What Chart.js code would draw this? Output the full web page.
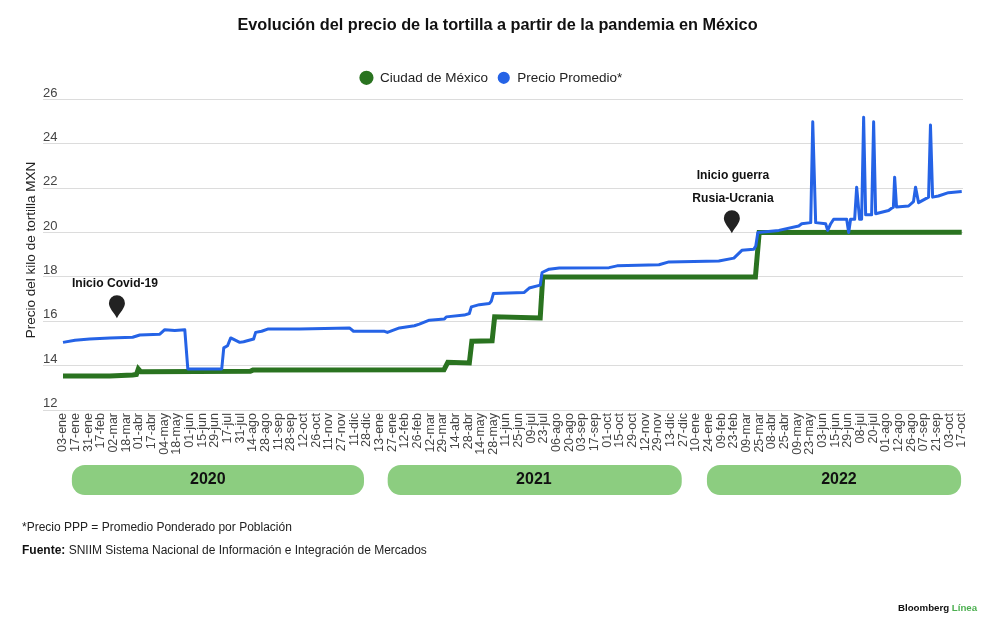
<!DOCTYPE html>
<html>
<head>
<meta charset="utf-8">
<title>Precio de la tortilla</title>
<script src="https://cdn.jsdelivr.net/npm/chart.js@4"></script>
<style>
    html, body { margin: 0; padding: 0; background: #fff; }
    #wrap { position: relative; width: 1000px; height: 633px; overflow: hidden; }
</style>
</head>
<body>
<div id="wrap"><canvas id="chart"></canvas></div>
<script>
const dateLabels = ['03-ene','17-ene','31-ene','17-feb','02-mar','18-mar','01-abr','17-abr','04-may','18-may','01-jun','15-jun','29-jun','17-jul','31-jul','14-ago','28-ago','11-sep','28-sep','12-oct','26-oct','11-nov','27-nov','11-dic','28-dic',
    '13-ene','27-ene','12-feb','26-feb','12-mar','29-mar','14-abr','28-abr','14-may','28-may','11-jun','25-jun','09-jul','23-jul','06-ago','20-ago','03-sep','17-sep','01-oct','15-oct','29-oct','12-nov','29-nov','13-dic','27-dic',
    '10-ene','24-ene','09-feb','23-feb','09-mar','25-mar','08-abr','25-abr','09-may','23-may','03-jun','15-jun','29-jun','08-jul','20-jul','01-ago','12-ago','26-ago','07-sep','21-sep','03-oct','17-oct'];

// positions along the date axis, in label units (0 = 03-ene 2020)
const cdmxAt = [0, 3.7, 5.5, 5.8, 5.95, 6.15, 6.3, 14.8, 15, 30.1, 30.4, 32.1, 32.3, 33.9, 34.1, 37.7, 37.9, 54.7, 55, 71];
const cdmxValues = [13.53, 13.53, 13.58, 13.6, 13.85, 13.72, 13.72, 13.75, 13.8, 13.82, 14.15, 14.12, 15.1, 15.12, 16.2, 16.15, 18, 18, 20, 20.02];

const promedioAt = [0, 0.95, 2.1, 3.7, 5.5, 6.07, 7.65, 8.04, 8.83, 9.62, 9.86, 12.54, 12.7, 13, 13.25, 13.96, 14.27, 15.06, 15.22, 15.69, 16.17, 18.69, 22.63, 22.95, 25.4, 25.63, 26.58, 27.76, 28.15, 28.94, 30.13, 30.28, 31.7, 32.1, 32.26, 32.89, 33.68, 33.83, 34, 36.44, 36.83, 37.7, 37.85, 38.4, 39.2, 43.14, 43.77, 47.08, 47.87, 51.81, 53, 53.63, 54.57, 54.73, 54.89, 56.55, 58.12, 58.36, 59.07, 59.23, 59.46, 60.25, 60.41, 60.65, 60.88, 61.91, 62.07, 62.22, 62.54, 62.7, 62.93, 63.09, 63.25, 63.41, 63.88, 64.04, 64.2, 65.22, 65.46, 65.6, 65.7, 65.85, 66.8, 67.19, 67.35, 67.59, 68.38, 68.53, 68.7, 69.16, 69.95, 71];
const promedioValues = [15.05, 15.15, 15.2, 15.25, 15.28, 15.38, 15.42, 15.62, 15.58, 15.62, 13.85, 13.85, 14.8, 14.9, 15.25, 15.05, 15.08, 15.2, 15.5, 15.55, 15.65, 15.65, 15.7, 15.55, 15.55, 15.5, 15.7, 15.8, 15.87, 16.05, 16.1, 16.2, 16.28, 16.35, 16.65, 16.75, 16.8, 16.9, 17.25, 17.3, 17.5, 17.63, 18.2, 18.35, 18.4, 18.42, 18.5, 18.55, 18.68, 18.72, 18.85, 19.2, 19.25, 19.4, 20, 20.1, 20.3, 20.4, 20.45, 25, 20.45, 20.4, 20.1, 20.4, 20.6, 20.6, 20, 20.6, 20.6, 22.05, 20.6, 20.6, 25.2, 20.8, 20.8, 25, 20.85, 21, 21.1, 21.15, 22.5, 21.15, 21.2, 21.4, 22.05, 21.35, 21.6, 24.85, 21.6, 21.65, 21.8, 21.85];

const yearNames = ['2020', '2021', '2022'];
const yearFrom = [0.7, 25.65, 50.87];
const yearTo = [23.78, 48.88, 70.95];
const yearTextAt = [11.44, 37.2, 61.3];

const FONT = '"Liberation Sans", Arial, sans-serif';

function toPoints(at, values) {
    return at.map((x, i) => ({ x: x, y: values[i] }));
}

// pin marker with its tip on a point of the chart
function drawPin(ctx, x, y) {
    const r = 8;
    ctx.beginPath();
    ctx.moveTo(x, y);
    ctx.bezierCurveTo(x - 3, y - 6, x - r, y - 10, x - r, y - 15);
    ctx.arc(x, y - 15, r, Math.PI, 0);
    ctx.bezierCurveTo(x + r, y - 10, x + 3, y - 6, x, y);
    ctx.closePath();
    ctx.fillStyle = '#222';
    ctx.fill();
}

const extras = {
    id: 'extras',
    // title and legend sit off the centre of the page in the original
    afterLayout(chart) {
        const legend = chart.legend;
        legend.top -= 5;
        legend.bottom -= 5;
        legend.left -= 12;
        legend.right -= 12;
        chart.titleBlock.left -= 5.5;
        chart.titleBlock.right -= 5.5;
    },
    afterDraw(chart) {
        const ctx = chart.ctx;
        const xs = chart.scales.x;
        const ys = chart.scales.y;
        ctx.save();

        // year bands under the axis
        yearNames.forEach((name, i) => {
            const a = xs.getPixelForValue(yearFrom[i]);
            const b = xs.getPixelForValue(yearTo[i]);
            ctx.beginPath();
            ctx.roundRect(a, 465, b - a, 30, 13);
            ctx.fillStyle = '#8ccd80';
            ctx.fill();
            ctx.fillStyle = '#111';
            ctx.font = 'bold 16px ' + FONT;
            ctx.textAlign = 'center';
            ctx.textBaseline = 'middle';
            ctx.fillText(name, xs.getPixelForValue(yearTextAt[i]), 480);
        });

        // y axis title
        ctx.save();
        ctx.translate(31, 250);
        ctx.rotate(-Math.PI / 2);
        ctx.font = '13.5px ' + FONT;
        ctx.fillStyle = '#222';
        ctx.textAlign = 'center';
        ctx.textBaseline = 'middle';
        ctx.fillText('Precio del kilo de tortilla MXN', 0, 0);
        ctx.restore();

        // annotations
        drawPin(ctx, xs.getPixelForValue(4.26), ys.getPixelForValue(16.14));
        drawPin(ctx, xs.getPixelForValue(52.84), ys.getPixelForValue(19.97));
        ctx.fillStyle = '#111';
        ctx.font = 'bold 12.1px ' + FONT;
        ctx.textAlign = 'center';
        ctx.textBaseline = 'middle';
        ctx.fillText('Inicio Covid-19', 115, 284);
        ctx.fillText('Inicio guerra', 733, 176);
        ctx.fillText('Rusia-Ucrania', 733, 199);

        // notes
        ctx.textAlign = 'left';
        ctx.font = '12px ' + FONT;
        ctx.fillStyle = '#222';
        ctx.fillText('*Precio PPP = Promedio Ponderado por Población', 22, 528);
        ctx.font = 'bold 12px ' + FONT;
        ctx.fillStyle = '#111';
        ctx.fillText('Fuente:', 22, 551);
        const w = ctx.measureText('Fuente: ').width;
        ctx.font = '12px ' + FONT;
        ctx.fillStyle = '#222';
        ctx.fillText('SNIIM Sistema Nacional de Información e Integración de Mercados', 22 + w, 551);

        // logo text
        ctx.font = 'bold 9.7px ' + FONT;
        ctx.fillStyle = '#111';
        ctx.fillText('Bloomberg', 898, 608);
        const lw = ctx.measureText('Bloomberg ').width;
        ctx.fillStyle = '#4caf50';
        ctx.fillText('Línea', 898 + lw, 608);

        ctx.restore();
    }
};

function initChart() {
    const canvas = document.getElementById('chart');
    canvas.width = 1000;
    canvas.height = 633;

    new Chart(canvas, {
        type: 'line',
        data: {
            datasets: [{
                label: 'Ciudad de México',
                data: toPoints(cdmxAt, cdmxValues),
                borderColor: '#2a7320',
                backgroundColor: '#2a7320',
                borderWidth: 5,
                pointRadius: 0,
                order: 1
            }, {
                label: 'Precio Promedio*',
                data: toPoints(promedioAt, promedioValues),
                borderColor: '#2563e6',
                backgroundColor: '#2563e6',
                borderWidth: 3,
                borderJoinStyle: 'round',
                pointRadius: 0,
                order: 0
            }]
        },
        options: {
            responsive: false,
            animation: false,
            layout: { padding: { left: 43, right: 37, top: 16, bottom: 0 } },
            plugins: {
                title: {
                    display: true,
                    text: 'Evolución del precio de la tortilla a partir de la pandemia en México',
                    color: '#111',
                    font: { family: FONT, size: 16.3, weight: 'bold' },
                    padding: { top: 0, bottom: 31.5 }
                },
                legend: {
                    position: 'top',
                    labels: {
                        usePointStyle: true,
                        pointStyle: 'circle',
                        boxHeight: 6.5,
                        color: '#222',
                        font: { family: FONT, size: 13.5 },
                        padding: 9,
                        sort: (a, b) => a.datasetIndex - b.datasetIndex
                    }
                },
                tooltip: { enabled: false }
            },
            scales: {
                x: {
                    type: 'linear',
                    min: -1.58,
                    max: 71.1,
                    grid: { display: false, drawTicks: false, tickLength: 0 },
                    border: { display: false },
                    afterBuildTicks: (scale) => {
                        scale.ticks = dateLabels.map((l, i) => ({ value: i }));
                    },
                    afterFit: (scale) => { scale.height = 223; },
                    ticks: {
                        autoSkip: false,
                        minRotation: 90,
                        maxRotation: 90,
                        padding: 3,
                        color: '#444',
                        font: { family: FONT, size: 12.5 },
                        callback: (value) => dateLabels[value]
                    }
                },
                y: {
                    min: 12,
                    max: 26,
                    grid: { color: '#dcdcdc', drawTicks: false },
                    border: { display: false },
                    ticks: {
                        stepSize: 2,
                        mirror: true,
                        padding: 0,
                        labelOffset: -6.5,
                        color: '#444',
                        font: { family: FONT, size: 13 }
                    }
                }
            }
        },
        plugins: [extras]
    });
}

initChart();
</script>
</body>
</html>
